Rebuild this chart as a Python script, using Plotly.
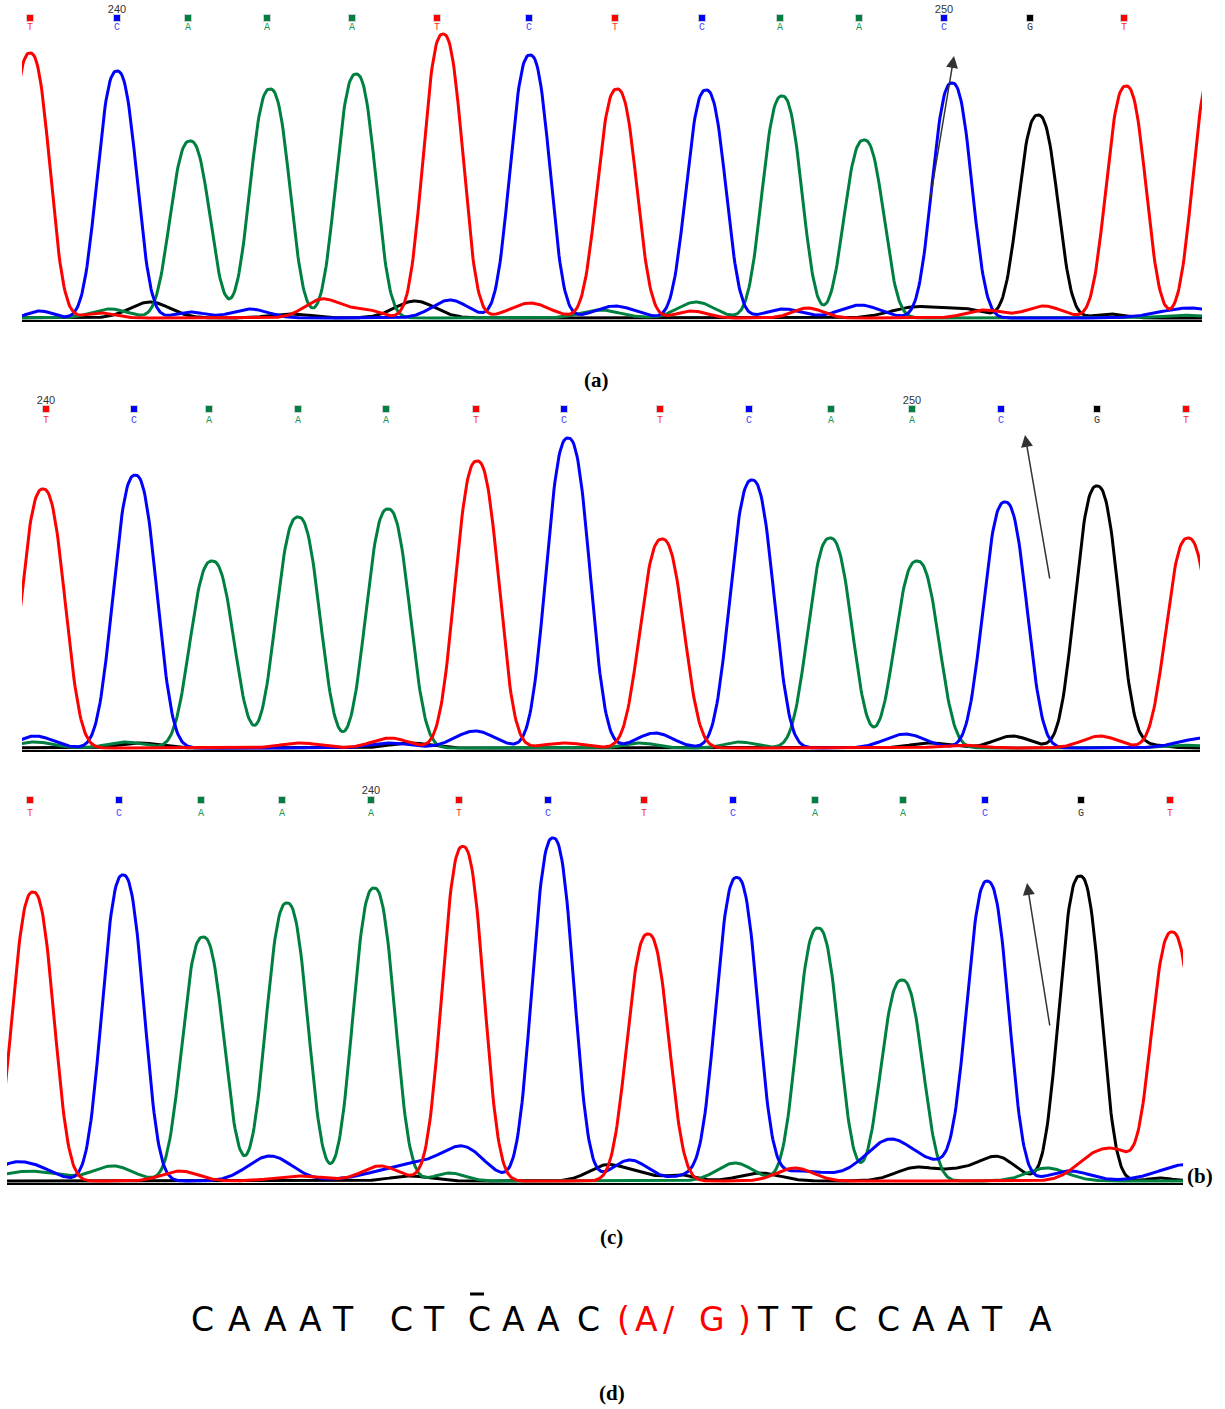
import numpy as np
import plotly.graph_objects as go

W, H = 1225, 1409

# ---------------- data: base calls (scan positions) ----------------
bases = ["T", "C", "A", "A", "A", "T", "C", "T", "C", "A", "A", "C", "G", "T"]
a_call_pos = [30, 117, 188, 267, 352, 437, 529, 615, 702, 780, 859, 944, 1030, 1124]
b_call_pos = [46, 134, 209, 298, 386, 476, 564, 660, 749, 831, 912, 1001, 1097, 1186]
c_call_pos = [30, 119, 201, 282, 371, 459, 548, 644, 733, 815, 903, 985, 1081, 1170]
a_numbers = {"240": 117, "250": 944}
b_numbers = {"240": 46, "250": 912}
c_numbers = {"240": 371}

# ---------------- data: panel (a) peaks ----------------
a_T_pos = [30, 443, 617, 1126, 1213]
a_T_h = [265, 284, 229, 232, 250]
a_C_pos = [117, 530, 706, 952]
a_C_h = [247, 263, 228, 235]
a_A_pos = [190, 270, 356, 782, 864]
a_A_h = [177, 229, 244, 222, 178]
a_G_pos = [1038]
a_G_h = [203]
# background (pos, height, width)
a_T_bg = [(100, 5, 15), (323, 19, 18), (365, 8, 15), (530, 15, 20), (692, 7, 15), (808, 10, 15), (984, 8, 18), (1044, 12, 18)]
a_C_bg = [(40, 7, 12), (190, 6, 15), (250, 9, 18), (450, 18, 18), (615, 12, 20), (784, 9, 18), (860, 13, 20), (1190, 10, 30)]
a_A_bg = [(110, 9, 18), (230, 3, 12), (600, 8, 20), (696, 16, 18), (1180, 3, 20)]
a_G_bg = [(150, 16, 20), (290, 4, 20), (415, 17, 20), (916, 11, 25), (965, 8, 20), (1110, 4, 15)]

# ---------------- data: panel (b) peaks ----------------
b_T_pos = [43, 477, 662, 1188]
b_T_h = [259, 287, 209, 210]
b_C_pos = [135, 568, 752, 1005]
b_C_h = [270, 310, 268, 246]
b_A_pos = [212, 298, 388, 830, 917]
b_A_h = [187, 231, 239, 210, 187]
b_G_pos = [1097]
b_G_h = [262]
b_T_bg = [(300, 5, 20), (390, 10, 18), (565, 5, 20), (960, 3, 20), (1100, 12, 18)]
b_C_bg = [(35, 12, 18), (140, 3, 15), (390, 5, 20), (475, 17, 20), (655, 15, 18), (905, 14, 20), (1205, 10, 25)]
b_A_bg = [(35, 6, 18), (125, 6, 18), (255, 2, 14), (640, 5, 15), (740, 6, 15), (873, 3, 14), (1180, 3, 20)]
b_G_bg = [(140, 5, 20), (410, 5, 20), (930, 5, 20), (1012, 12, 18), (1150, 3, 15)]

# ---------------- data: panel (c) peaks ----------------
c_T_pos = [33, 463, 648, 1172]
c_T_h = [289, 333, 247, 249]
c_C_pos = [123, 553, 737, 988]
c_C_h = [306, 343, 301, 295]
c_A_pos = [203, 287, 374, 818, 902]
c_A_h = [244, 278, 293, 253, 201]
c_G_pos = [1080]
c_G_h = [305]
c_T_bg = [(180, 10, 18), (300, 5, 25), (380, 15, 18), (440, 3, 20), (795, 13, 18), (1097, 27, 20), (1122, 16, 14)]
c_C_bg = [(7, 10, 15), (32, 15, 20), (270, 25, 22), (420, 18, 40), (465, 25, 20), (630, 21, 18), (700, 8, 20),
          (800, 10, 30), (890, 41, 25), (950, 15, 25), (1070, 10, 20), (1190, 17, 30)]
c_A_bg = [(10, 4, 20), (40, 8, 25), (113, 15, 20), (245, 4, 14), (450, 8, 15), (735, 18, 18), (1047, 13, 20)]
c_G_bg = [(410, 5, 20), (607, 16, 18), (640, 6, 15), (680, 6, 15), (760, 8, 20), (915, 13, 20), (960, 10, 20),
          (998, 23, 18), (1160, 3, 12)]

# ---------------- data: sequence text ----------------
seq_chars = list("CAAATCTCAAC(A/G)TTCCAATA")
seq_red = [False] * 11 + [True] * 5 + [False] * 8

# ---------------- styles ----------------
COL = {"T": "#FF0000", "C": "#0000FF", "A": "#008040", "G": "#000000"}
LBL = {"T": "#FF2A2A", "C": "#4646FF", "A": "#1E9456", "G": "#333333"}
SHAPE_P = 2.5


def px_x(p):
    return p / W


def px_y(p):
    return 1 - p / H


def channel(xs, pos, h, sig, bg):
    y = np.zeros_like(xs, dtype=float)
    for p, hh in zip(pos, h):
        y += hh * np.exp(-0.5 * (np.abs(xs - p) / sig) ** SHAPE_P)
    for p, hh, w in bg:
        y += hh * np.exp(-0.5 * ((xs - p) / w) ** 2)
    return y


fig = go.Figure()

panels = [
    dict(ax="", x0=22, x1=1202, yb=320, yt=0, sig=19.0,
         T=(a_T_pos, a_T_h, a_T_bg), C=(a_C_pos, a_C_h, a_C_bg), A=(a_A_pos, a_A_h, a_A_bg), G=(a_G_pos, a_G_h, a_G_bg),
         calls=a_call_pos, nums=a_numbers, sq=20, lt=29, nm=12),
    dict(ax="2", x0=22, x1=1200, yb=750, yt=393, sig=21.0,
         T=(b_T_pos, b_T_h, b_T_bg), C=(b_C_pos, b_C_h, b_C_bg), A=(b_A_pos, b_A_h, b_A_bg), G=(b_G_pos, b_G_h, b_G_bg),
         calls=b_call_pos, nums=b_numbers, sq=411, lt=422, nm=403),
    dict(ax="3", x0=7, x1=1183, yb=1183, yt=783, sig=20.0,
         T=(c_T_pos, c_T_h, c_T_bg), C=(c_C_pos, c_C_h, c_C_bg), A=(c_A_pos, c_A_h, c_A_bg), G=(c_G_pos, c_G_h, c_G_bg),
         calls=c_call_pos, nums=c_numbers, sq=802, lt=815, nm=793),
]

layout_axes = {}
for P in panels:
    x0, x1, yb, yt = P["x0"], P["x1"], P["yb"], P["yt"]
    xs = np.arange(x0 - 40, x1 + 41, 1.0)
    xa = "x" + P["ax"]
    ya = "y" + P["ax"]
    rng = yb - yt
    for b in ["G", "A", "C", "T"]:
        pos, h, bg = P[b]
        ys = channel(xs, pos, h, P["sig"], bg)
        fig.add_trace(go.Scatter(x=xs, y=ys, mode="lines", xaxis=xa, yaxis=ya,
                                 line=dict(color=COL[b], width=3), hoverinfo="skip", showlegend=False))
    sq_y = [yb - P["sq"]] * len(P["calls"])
    fig.add_trace(go.Scatter(x=P["calls"], y=sq_y, mode="markers", xaxis=xa, yaxis=ya, cliponaxis=False,
                             marker=dict(symbol="square", size=7, color=[COL[b] for b in bases],
                                         line=dict(color="#cfcfcf", width=1)),
                             hoverinfo="skip", showlegend=False))
    fig.add_trace(go.Scatter(x=P["calls"], y=[yb - P["lt"]] * len(P["calls"]), mode="text", xaxis=xa, yaxis=ya,
                             cliponaxis=False, text=bases,
                             textfont=dict(family="Liberation Mono", size=10, color=[LBL[b] for b in bases]),
                             hoverinfo="skip", showlegend=False))
    fig.add_trace(go.Scatter(x=list(P["nums"].values()), y=[yb - P["nm"]] * len(P["nums"]), mode="text",
                             xaxis=xa, yaxis=ya, cliponaxis=False, text=list(P["nums"].keys()),
                             textfont=dict(family="Liberation Sans", size=11, color="#333333"),
                             hoverinfo="skip", showlegend=False))
    key = "xaxis" + P["ax"]
    ykey = "yaxis" + P["ax"]
    layout_axes[key] = dict(domain=[px_x(x0), px_x(x1)], range=[x0, x1], showgrid=False, zeroline=False,
                            showticklabels=False, ticks="", showline=True, linecolor="black", linewidth=2,
                            anchor=ya, fixedrange=True)
    layout_axes[ykey] = dict(domain=[px_y(yb), px_y(yt)], range=[-2, rng - 2], showgrid=False, zeroline=False,
                             showticklabels=False, ticks="", showline=False, anchor=xa, fixedrange=True)

annotations = []
arrows = [((954, 56), (930, 200)), ((1025, 435), (1050, 580)), ((1027, 883), (1050, 1027))]
for (hx, hy), (tx, ty) in arrows:
    annotations.append(dict(x=px_x(hx), y=px_y(hy), xref="paper", yref="paper", text="", showarrow=True,
                            ax=tx - hx, ay=ty - hy, arrowhead=2, arrowsize=1.6, arrowwidth=1.5,
                            arrowcolor="#333333", standoff=0, startstandoff=0))
captions = [("(a)", 596, 380), ("(b)", 1200, 1176), ("(c)", 611, 1237), ("(d)", 612, 1393)]
for t, cx, cy in captions:
    annotations.append(dict(x=px_x(cx), y=px_y(cy), xref="paper", yref="paper", text="<b>%s</b>" % t,
                            showarrow=False, xanchor="center", yanchor="middle",
                            font=dict(family="Liberation Serif", size=21, color="black")))
seq_x = [202, 239, 275, 310, 343, 401, 434, 479, 513, 548, 588, 623, 646, 669, 712, 744,
         768, 802, 845, 888, 923, 958, 992, 1040]
for ch, sx, red in zip(seq_chars, seq_x, seq_red):
    annotations.append(dict(x=px_x(sx), y=px_y(1319), xref="paper", yref="paper", text=ch, showarrow=False,
                            xanchor="center", yanchor="middle",
                            font=dict(family="DejaVu Sans", size=33, color="#FF0000" if red else "black")))

shapes = [dict(type="line", xref="paper", yref="paper", x0=px_x(470), x1=px_x(484), y0=px_y(1294), y1=px_y(1294),
               line=dict(color="black", width=3))]

fig.update_layout(width=W, height=H, margin=dict(l=0, r=0, t=0, b=0), paper_bgcolor="white",
                  plot_bgcolor="white", showlegend=False, annotations=annotations, shapes=shapes, **layout_axes)

fig.write_html("out.html", config={"displayModeBar": False},
               post_script="document.body.style.margin='0px';document.body.style.padding='0px';")
